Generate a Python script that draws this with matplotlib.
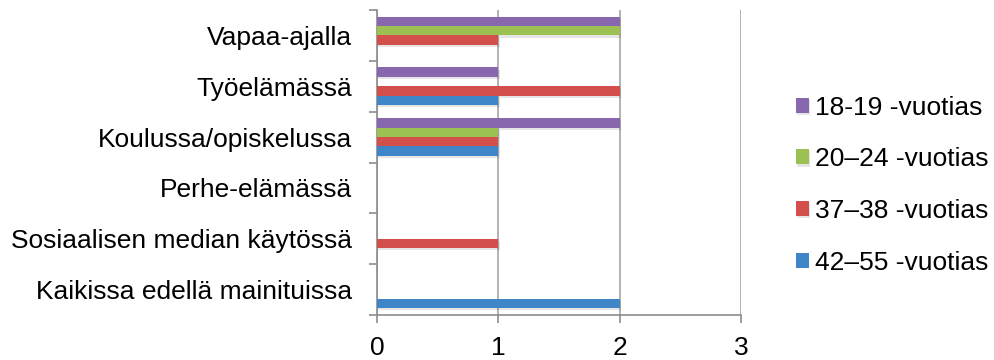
import matplotlib
matplotlib.use("Agg")
import matplotlib.pyplot as plt
import matplotlib.patheffects as pe
import numpy as np

plt.rcParams['font.family'] = ['Liberation Sans', 'DejaVu Sans']

categories = ["Vapaa-ajalla", "Työelämässä", "Koulussa/opiskelussa",
              "Perhe-elämässä", "Sosiaalisen median käytössä",
              "Kaikissa edellä mainituissa"]
series_names = ["18-19 -vuotias", "20–24 -vuotias", "37–38 -vuotias", "42–55 -vuotias"]
v_18_19 = [2, 1, 2, 0, 0, 0]
v_20_24 = [2, 0, 1, 0, 0, 0]
v_37_38 = [1, 2, 1, 0, 1, 0]
v_42_55 = [0, 1, 1, 0, 0, 2]
series_values = [v_18_19, v_20_24, v_37_38, v_42_55]
colors = ["#8867AE", "#9CC052", "#D24F4B", "#3E86C8"]
x_ticks = [0, 1, 2, 3]

fig = plt.figure(figsize=(9.94, 3.6), dpi=100)
ax = fig.add_axes([377/994, 1-315/360, (741-377)/994, (315-10)/360])

n = len(categories)
ypos = np.arange(n)[::-1].astype(float)
h = 0.185
offsets = [1.5*h, 0.5*h, -0.5*h, -1.5*h]
handles = []
for vals, col, off, name in zip(series_values, colors, offsets, series_names):
    bars = ax.barh(ypos + off, vals, height=h, color=col, linewidth=0, label=name, zorder=3)
    for b in bars:
        if b.get_width() > 0:
            b.set_path_effects([pe.SimplePatchShadow(offset=(1, -1.5), shadow_rgbFace='#000000', alpha=0.10), pe.Normal()])
    handles.append(bars)

ax.set_xlim(0, 3)
ax.set_ylim(-0.5, n - 0.5)
ax.set_xticks(x_ticks)
ax.set_xticklabels([str(t) for t in x_ticks], fontsize=19)
ax.set_yticks(ypos)
ax.set_yticklabels(categories, fontsize=19)
ax.set_yticks(np.arange(n + 1) - 0.5, minor=True)
ax.tick_params(axis='y', which='major', length=0, pad=18)
ax.tick_params(axis='y', which='minor', length=6, color='#8C8C8C', width=1.2)
ax.tick_params(axis='x', length=6, color='#8C8C8C', width=1.2, pad=9)
ax.xaxis.grid(True, color='#A6A6A6', linewidth=1.2, zorder=0)
ax.set_axisbelow(True)
for s in ['top', 'right']:
    ax.spines[s].set_visible(False)
for s in ['left', 'bottom']:
    ax.spines[s].set_color('#8C8C8C')
    ax.spines[s].set_linewidth(1.2)

leg = fig.legend(handles, series_names, loc='upper left', bbox_to_anchor=(785/994, 1-85/360),
                 frameon=False, fontsize=19, handlelength=0.5, handleheight=0.5,
                 handletextpad=0.23, labelspacing=1.05, borderaxespad=0)

fig.savefig("out.png", dpi=100)
